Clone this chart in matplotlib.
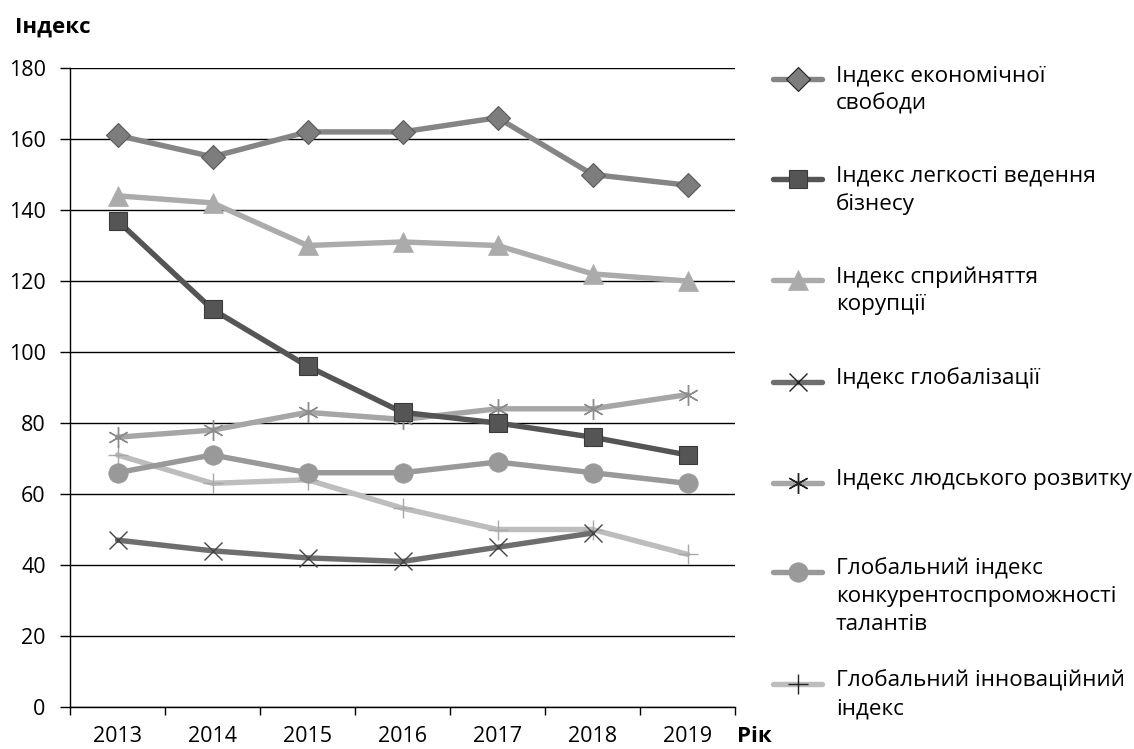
import numpy as np
import matplotlib
matplotlib.use("Agg")
import matplotlib.pyplot as plt
from matplotlib.lines import Line2D

plt.rcParams['font.family'] = ['Open Sans', 'DejaVu Sans']

years = ['2013', '2014', '2015', '2016', '2017', '2018', '2019']
econ_freedom = [161, 155, 162, 162, 166, 150, 147]
doing_business = [137, 112, 96, 83, 80, 76, 71]
corruption = [144, 142, 130, 131, 130, 122, 120]
globalization = [47, 44, 42, 41, 45, 49, np.nan]
human_dev = [76, 78, 83, 81, 84, 84, 88]
talent = [66, 71, 66, 66, 69, 66, 63]
innovation = [71, 63, 64, 56, 50, 50, 43]

labels = ['Індекс економічної\nсвободи',
          'Індекс легкості ведення\nбізнесу',
          'Індекс сприйняття\nкорупції',
          'Індекс глобалізації',
          'Індекс людського розвитку',
          'Глобальний індекс\nконкурентоспроможності\nталантів',
          'Глобальний інноваційний\nіндекс']
yticks = [0, 20, 40, 60, 80, 100, 120, 140, 160, 180]

W, H = 1134, 749
fig = plt.figure(figsize=(W / 100, H / 100), dpi=100)
ax = fig.add_axes([70 / W, 1 - 707 / H, 665 / W, 639 / H])

x = np.arange(len(years))
styles = [
    dict(color='#858585', lw=3.9, marker='D', ms=12.5, mfc='#7d7d7d', mec='#5a5a5a', mew=0.8),
    dict(color='#555555', lw=3.9, marker='s', ms=13.5, mfc='#555555', mec='#3a3a3a', mew=0.8),
    dict(color='#ababab', lw=3.9, marker='^', ms=14, mfc='#ababab', mec='#ababab', mew=0.5),
    dict(color='#6e6e6e', lw=3.9, marker='x', ms=13, mfc='none', mec='#444444', mew=1.0),
    dict(color='#a6a6a6', lw=3.9, marker=(6, 2, 0), ms=15, mfc='none', mec='#8c8c8c', mew=1.0),
    dict(color='#999999', lw=3.9, marker='o', ms=14, mfc='#999999', mec='#999999', mew=0.5),
    dict(color='#bdbdbd', lw=3.9, marker='+', ms=15, mfc='none', mec='#a8a8a8', mew=1.0),
]
series = [econ_freedom, doing_business, corruption, globalization, human_dev, talent, innovation]
zorders = [5, 6, 5, 4, 5, 4, 3]
for s, st, z in zip(series, styles, zorders):
    ax.plot(x, s, zorder=z, solid_capstyle='round', **st)

ax.set_xlim(-0.5, 6.5)
ax.set_ylim(0, 180)
ax.set_yticks(yticks)
ax.set_yticklabels([str(v) for v in yticks])
ax.yaxis.grid(True, color='black', lw=1.0)
ax.set_axisbelow(True)
for sp in ['top', 'right']:
    ax.spines[sp].set_visible(False)
ax.spines['left'].set_linewidth(1.0)
ax.spines['bottom'].set_linewidth(1.0)
ax.tick_params(axis='y', direction='out', length=7.5, width=1.0, pad=10, labelsize=15.5, colors='black')
ax.set_xticks(x)
ax.set_xticklabels(years)
ax.set_xticks(np.arange(-0.5, 7.0, 1.0), minor=True)
ax.tick_params(axis='x', which='major', length=0, pad=14, labelsize=15.5)
ax.tick_params(axis='x', which='minor', direction='out', length=5.5, width=1.0)

fig.text(15 / W, 1 - 27 / H, 'Індекс', fontsize=16, fontweight='bold', ha='left', va='center')
fig.text(737 / W, 1 - 737 / H, 'Рік', fontsize=16, fontweight='bold', ha='left', va='center')

# legend
leg_y = [79, 179, 280, 382, 483, 572, 684]
for lab, st, yy in zip(labels, styles, leg_y):
    yf = 1 - yy / H
    ln = Line2D([773 / W, 822 / W], [yf, yf], transform=fig.transFigure,
                color=st['color'], lw=st['lw'], solid_capstyle='round')
    fig.add_artist(ln)
    mk = Line2D([797.5 / W], [yf], transform=fig.transFigure, linestyle='none',
                marker=st['marker'], ms=st['ms'], mfc=st['mfc'],
                mec=('#222222' if st['mfc'] == 'none' or st['marker'] == 'D' else st['mec']),
                mew=st['mew'])
    fig.add_artist(mk)
    fig.text(836 / W, 1 - (yy - 14) / H, lab, fontsize=16.2, ha='left', va='top',
             linespacing=1.42, transform=fig.transFigure)

fig.savefig('out.png', dpi=100)
